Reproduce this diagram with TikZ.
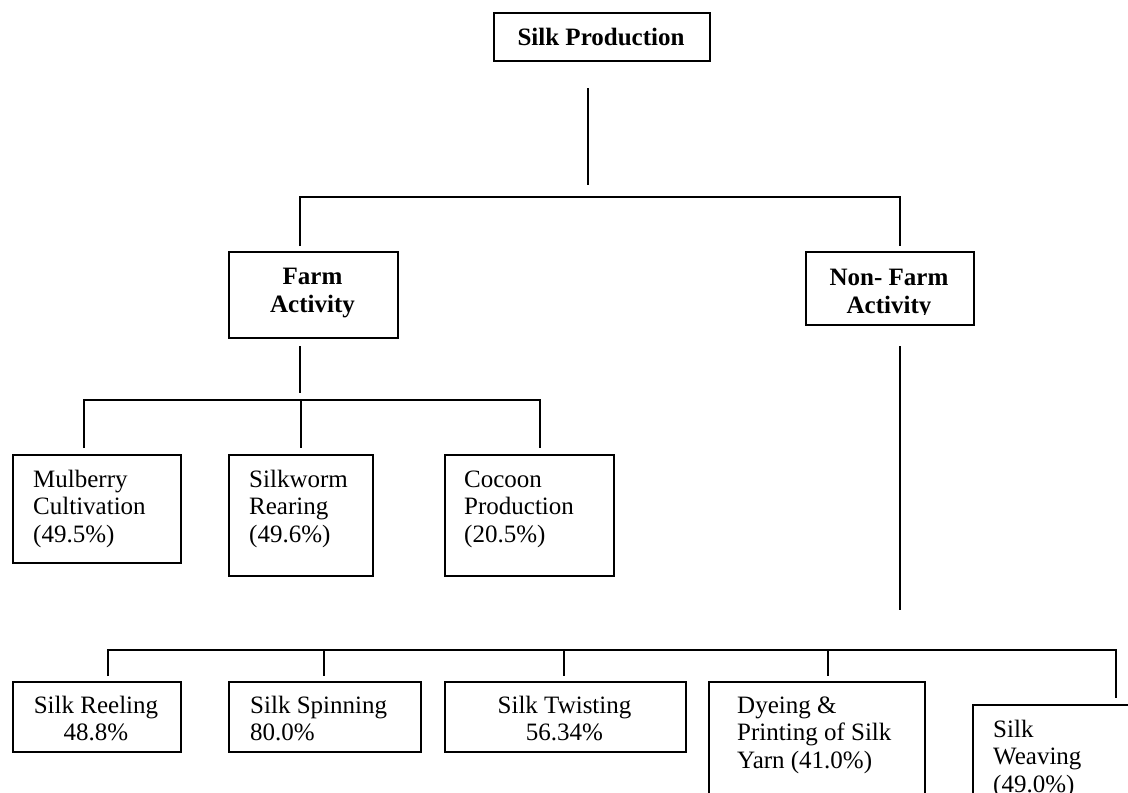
\documentclass[tikz,border=0pt]{standalone}
\usepackage{fontspec}
\setmainfont{Liberation Serif}
\newcommand\lcol[1]{\vtop{\halign{##\hfil\cr#1\crcr}}}
\newcommand\ccol[1]{\vtop{\halign{\hfil##\hfil\cr#1\crcr}}}
\tikzset{
  ln/.style={line width=1.8pt},
  box/.style={draw, line width=1.8pt, inner sep=0pt, anchor=north west},
  txt/.style={inner sep=0pt, anchor=base west, font=\fontsize{25}{27.5}\selectfont},
  ctxt/.style={inner sep=0pt, anchor=base, font=\fontsize{25}{27.5}\selectfont},
  btxt/.style={inner sep=0pt, anchor=base, font=\fontsize{25}{28.5}\selectfont\bfseries},
}
\begin{document}
\begin{tikzpicture}[x=1pt,y=-1pt]
\useasboundingbox (0,0) rectangle (1128,793);
\clip (0,0) rectangle (1128,793);
% ---------- boxes ----------
\node[box, minimum width=216pt, minimum height=48pt] (sp) at (493,12) {};
\node[box, minimum width=169pt, minimum height=86pt] (farm) at (228,251) {};
\node[box, minimum width=168pt, minimum height=73pt] (nonfarm) at (805,251) {};
\node[box, minimum width=168pt, minimum height=108pt] (mul) at (12,454) {};
\node[box, minimum width=144pt, minimum height=121pt] (silkw) at (228,454) {};
\node[box, minimum width=169pt, minimum height=121pt] (coc) at (444,454) {};
\node[box, minimum width=168pt, minimum height=70pt] (reel) at (12,681) {};
\node[box, minimum width=192pt, minimum height=70pt] (spin) at (228,681) {};
\node[box, minimum width=241pt, minimum height=70pt] (twist) at (444,681) {};
\node[box, minimum width=216pt, minimum height=150pt] (dye) at (708,681) {};
\node[box, minimum width=200pt, minimum height=150pt] (weave) at (972,704) {};
% ---------- texts ----------
\node[btxt] (spt) at (601,45) {Silk Production};
\node[btxt] (farmt) at (312.5,284) {\ccol{Farm\cr Activity}};
\begin{scope}
  \clip (805,251) rectangle (973,314.5);
  \node[btxt] (nonfarmt) at (889,285) {\ccol{Non- Farm\cr Activity}};
\end{scope}
\node[txt] (mult) at (33,487) {\lcol{Mulberry\cr Cultivation\cr (49.5\%)}};
\node[txt] (silkwt) at (249,487) {\lcol{Silkworm\cr Rearing\cr (49.6\%)}};
\node[txt] (coct) at (464,487) {\lcol{Cocoon\cr Production\cr (20.5\%)}};
\node[ctxt] (reelt) at (96,713) {\ccol{Silk Reeling\cr 48.8\%}};
\node[txt] (spint) at (250,713) {\lcol{Silk Spinning\cr 80.0\%}};
\node[ctxt] (twistt) at (564.5,713) {\ccol{Silk Twisting\cr 56.34\%}};
\node[txt] (dyet) at (737,713) {\lcol{Dyeing \&\cr Printing of Silk\cr Yarn (41.0\%)}};
\node[txt] (weavet) at (993,737) {\lcol{Silk\cr Weaving\cr (49.0\%)}};
% ---------- connector coordinates ----------
\coordinate (spA) at (588,88);
\coordinate (spB) at (588,185);
\coordinate (b1L) at (300,197);
\coordinate (b1R) at (900,197);
\coordinate (fA) at (300,346);
\coordinate (fB) at (300,393);
\coordinate (b2L) at (84,400);
\coordinate (b2M) at (301,400);
\coordinate (b2R) at (540,400);
\coordinate (nA) at (900,346);
\coordinate (nB) at (900,610);
\coordinate (b3A) at (108,650);
\coordinate (b3B) at (324,650);
\coordinate (b3C) at (564,650);
\coordinate (b3D) at (828,650);
\coordinate (b3E) at (1116,650);
% ---------- connectors ----------
\draw[ln] (spA) -- (spB);
\draw[ln] ([yshift=5pt]farm.north -| b1L) -- (b1L) -- (b1R) -- ([yshift=5pt]nonfarm.north -| b1R);
\draw[ln] (fA) -- (fB);
\draw[ln] ([yshift=6pt]mul.north -| b2L) -- (b2L) -- (b2R) -- ([yshift=6pt]coc.north -| b2R);
\draw[ln] (b2M) -- ([yshift=6pt]silkw.north -| b2M);
\draw[ln] (nA) -- (nB);
\draw[ln] ([yshift=5pt]reel.north -| b3A) -- (b3A) -- (b3E) -- ([yshift=6pt]weave.north -| b3E);
\draw[ln] (b3B) -- ([yshift=5pt]spin.north -| b3B);
\draw[ln] (b3C) -- ([yshift=5pt]twist.north -| b3C);
\draw[ln] (b3D) -- ([yshift=5pt]dye.north -| b3D);
\end{tikzpicture}
\end{document}
